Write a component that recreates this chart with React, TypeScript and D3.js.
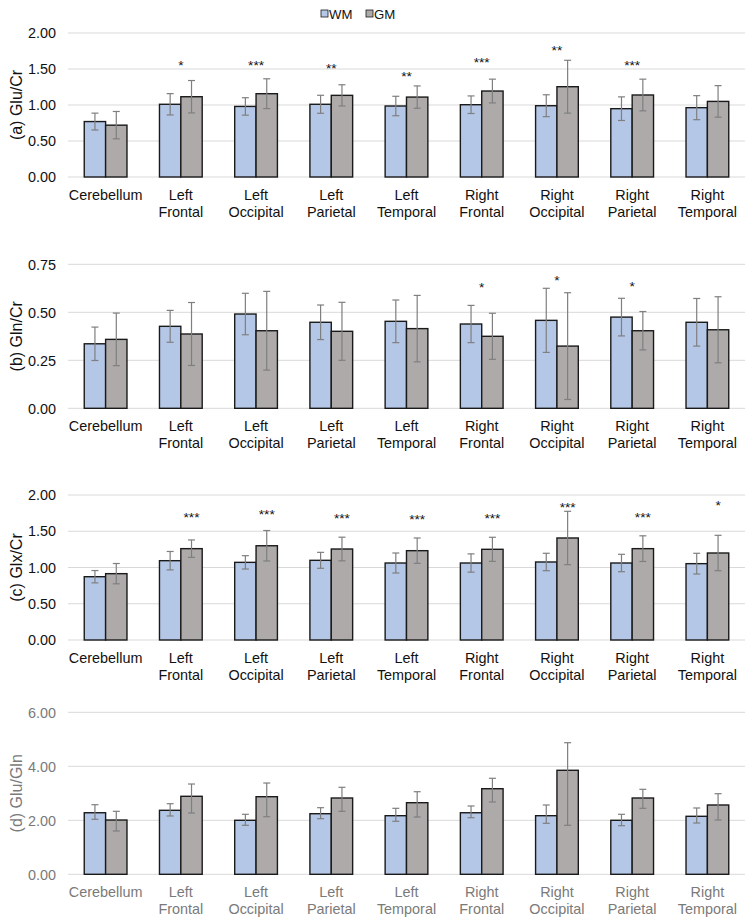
import React from "react";
import * as d3 from "d3";

// ---------- data ----------
const categories = [
  "Cerebellum",
  "Left Frontal",
  "Left Occipital",
  "Left Parietal",
  "Left Temporal",
  "Right Frontal",
  "Right Occipital",
  "Right Parietal",
  "Right Temporal",
];
const seriesNames = ["WM", "GM"];

// (a) Glu/Cr
const gluCrWM = [0.77, 1.01, 0.98, 1.01, 0.986, 1.004, 0.99, 0.949, 0.963];
const gluCrWMErr = [0.117, 0.148, 0.121, 0.125, 0.135, 0.122, 0.152, 0.164, 0.167];
const gluCrGM = [0.72, 1.115, 1.157, 1.134, 1.11, 1.194, 1.254, 1.139, 1.05];
const gluCrGMErr = [0.19, 0.225, 0.207, 0.147, 0.155, 0.165, 0.367, 0.22, 0.219];
const gluCrSig = ["", "*", "***", "**", "**", "***", "**", "***", ""];
const gluCrSigLevel = [0, 1.597, 1.597, 1.556, 1.444, 1.639, 1.806, 1.597, 0];

// (b) Gln/Cr
const glnCrWM = [0.336, 0.427, 0.491, 0.448, 0.453, 0.439, 0.458, 0.475, 0.448];
const glnCrWMErr = [0.087, 0.083, 0.108, 0.09, 0.111, 0.097, 0.167, 0.098, 0.124];
const glnCrGM = [0.359, 0.387, 0.404, 0.401, 0.415, 0.375, 0.324, 0.404, 0.409];
const glnCrGMErr = [0.137, 0.164, 0.205, 0.151, 0.173, 0.12, 0.278, 0.1, 0.172];
const glnCrSig = ["", "", "", "", "", "*", "*", "*", ""];
const glnCrSigLevel = [0, 0, 0, 0, 0, 0.647, 0.685, 0.654, 0];

// (c) Glx/Cr
const glxCrWM = [0.873, 1.094, 1.071, 1.099, 1.062, 1.062, 1.076, 1.062, 1.053];
const glxCrWMErr = [0.085, 0.127, 0.092, 0.11, 0.138, 0.126, 0.12, 0.12, 0.143];
const glxCrGM = [0.915, 1.26, 1.3, 1.255, 1.232, 1.251, 1.407, 1.26, 1.2];
const glxCrGMErr = [0.14, 0.12, 0.21, 0.163, 0.175, 0.166, 0.368, 0.177, 0.244];
const glxCrSig = ["", "***", "***", "***", "***", "***", "***", "***", "*"];
const glxCrSigLevel = [0, 1.738, 1.77, 1.728, 1.71, 1.728, 1.872, 1.742, 1.903];

// (d) Glu/Gln (asymmetric error bars)
const gluGlnWM = [2.28, 2.37, 2.0, 2.244, 2.17, 2.28, 2.17, 2.0, 2.148];
const gluGlnWMPlus = [0.298, 0.245, 0.222, 0.223, 0.274, 0.25, 0.397, 0.222, 0.308];
const gluGlnWMMinus = [0.243, 0.21, 0.185, 0.185, 0.207, 0.184, 0.281, 0.2, 0.248];
const gluGlnGM = [2.01, 2.889, 2.874, 2.826, 2.652, 3.17, 3.852, 2.826, 2.567];
const gluGlnGMPlus = [0.323, 0.455, 0.507, 0.396, 0.407, 0.386, 1.022, 0.322, 0.418];
const gluGlnGMMinus = [0.406, 0.619, 0.741, 0.493, 0.53, 0.492, 2.037, 0.382, 0.556];

const ticksA = [0, 0.5, 1.0, 1.5, 2.0];
const ticksB = [0, 0.25, 0.5, 0.75];
const ticksC = [0, 0.5, 1.0, 1.5, 2.0];
const ticksD = [0, 2, 4, 6];

// ---------- styles ----------
const FONT = "'Liberation Sans', Arial, Helvetica, sans-serif";
const FS = 14.4;
const COLORS = { WM: "#b4c7e7", GM: "#aeaaaa" };
const ERR = "#7f7f7f";
const GRID = "#d9d9d9";
const X0 = 68;
const X1 = 745;

type Panel = {
  title: string;
  wm: number[];
  gm: number[];
  wmPlus: number[];
  wmMinus: number[];
  gmPlus: number[];
  gmMinus: number[];
  ticks: number[];
  top: number;
  bottom: number;
  sig: string[];
  sigLevel: number[];
  sigOnGM: boolean;
  textColor: string;
};

const panels: Panel[] = [
  {
    title: "(a) Glu/Cr",
    wm: gluCrWM, gm: gluCrGM,
    wmPlus: gluCrWMErr, wmMinus: gluCrWMErr, gmPlus: gluCrGMErr, gmMinus: gluCrGMErr,
    ticks: ticksA, top: 33, bottom: 177,
    sig: gluCrSig, sigLevel: gluCrSigLevel, sigOnGM: false, textColor: "#111",
  },
  {
    title: "(b) Gln/Cr",
    wm: glnCrWM, gm: glnCrGM,
    wmPlus: glnCrWMErr, wmMinus: glnCrWMErr, gmPlus: glnCrGMErr, gmMinus: glnCrGMErr,
    ticks: ticksB, top: 264.3, bottom: 408.3,
    sig: glnCrSig, sigLevel: glnCrSigLevel, sigOnGM: false, textColor: "#111",
  },
  {
    title: "(c) Glx/Cr",
    wm: glxCrWM, gm: glxCrGM,
    wmPlus: glxCrWMErr, wmMinus: glxCrWMErr, gmPlus: glxCrGMErr, gmMinus: glxCrGMErr,
    ticks: ticksC, top: 495, bottom: 640,
    sig: glxCrSig, sigLevel: glxCrSigLevel, sigOnGM: true, textColor: "#111",
  },
  {
    title: "(d) Glu/Gln",
    wm: gluGlnWM, gm: gluGlnGM,
    wmPlus: gluGlnWMPlus, wmMinus: gluGlnWMMinus, gmPlus: gluGlnGMPlus, gmMinus: gluGlnGMMinus,
    ticks: ticksD, top: 712.3, bottom: 874.3,
    sig: [], sigLevel: [], sigOnGM: false, textColor: "#7a7a7a",
  },
];

const x0 = d3.scaleBand<string>().domain(categories).range([X0, X1]).paddingInner(0.432).paddingOuter(0.216);
const x1 = d3.scaleBand<string>().domain(seriesNames).range([0, x0.bandwidth()]).padding(0);

function Txt(props: { x: number; y: number; anchor: string; color: string; children: React.ReactNode; fs?: number }) {
  return (
    <text x={props.x} y={props.y} textAnchor={props.anchor as any} fill={props.color} fontSize={props.fs ?? FS} fontFamily={FONT}>
      {props.children}
    </text>
  );
}

function PanelView({ p }: { p: Panel }) {
  const yMax = p.ticks[p.ticks.length - 1];
  const y = d3.scaleLinear().domain([0, yMax]).range([p.bottom, p.top]);
  const fmt = d3.format(".2f");
  const cap = 3.5;
  return (
    <g>
      {p.ticks.map((t) => (
        <g key={t}>
          <line x1={X0} x2={X1} y1={y(t)} y2={y(t)} stroke={GRID} strokeWidth={1} />
          <Txt x={56} y={y(t) + 5.2} anchor="end" color={p.textColor}>{fmt(t)}</Txt>
        </g>
      ))}
      {categories.map((c, i) => {
        const bx = x0(c)!;
        const series = [
          { s: "WM", v: p.wm[i], plus: p.wmPlus[i], minus: p.wmMinus[i] },
          { s: "GM", v: p.gm[i], plus: p.gmPlus[i], minus: p.gmMinus[i] },
        ];
        const lines = c.split(" ");
        const cx = bx + x0.bandwidth() / 2;
        return (
          <g key={c}>
            {series.map((d) => (
              <rect key={d.s} x={bx + x1(d.s)!} y={y(d.v)} width={x1.bandwidth()} height={y(0) - y(d.v)}
                fill={(COLORS as any)[d.s]} stroke="#1a1a1a" strokeWidth={1.4} />
            ))}
            {series.map((d) => {
              const ex = bx + x1(d.s)! + x1.bandwidth() / 2;
              return (
                <g key={"e" + d.s} stroke={ERR} strokeWidth={1.2}>
                  <line x1={ex} x2={ex} y1={y(d.v + d.plus)} y2={y(d.v - d.minus)} />
                  <line x1={ex - cap} x2={ex + cap} y1={y(d.v + d.plus)} y2={y(d.v + d.plus)} />
                  <line x1={ex - cap} x2={ex + cap} y1={y(d.v - d.minus)} y2={y(d.v - d.minus)} />
                </g>
              );
            })}
            {lines.map((l, li) => (
              <Txt key={li} x={cx} y={p.bottom + 22.5 + li * 17} anchor="middle" color={p.textColor}>{l}</Txt>
            ))}
            {p.sig[i] ? (
              <Txt
                x={p.sigOnGM ? bx + x1("GM")! + x1.bandwidth() / 2 : cx}
                y={y(p.sigLevel[i]) + 13.7 * 0.57}
                anchor="middle"
                color="#111"
                fs={13.7}
              >
                {p.sig[i]}
              </Txt>
            ) : null}
          </g>
        );
      })}
      <text
        transform={`translate(21.5,${(p.top + p.bottom) / 2}) rotate(-90)`}
        textAnchor="middle" fill={p.textColor} fontSize={16} fontFamily={FONT}
      >
        {p.title}
      </text>
    </g>
  );
}

export default function App() {
  return (
    <svg width={754} height={924} style={{ position: "absolute", left: 0, top: 0, background: "#fff" }}>
      <rect x={0} y={0} width={754} height={924} fill="#fff" />
      {/* legend */}
      <g>
        <rect x={321} y={10} width={7} height={7} fill={COLORS.WM} stroke="#1a1a1a" strokeWidth={0.8} />
        <Txt x={329} y={18.8} anchor="start" color="#111" fs={13.2}>WM</Txt>
        <rect x={366} y={10} width={7} height={7} fill={COLORS.GM} stroke="#1a1a1a" strokeWidth={0.8} />
        <Txt x={374} y={18.8} anchor="start" color="#111" fs={13.2}>GM</Txt>
      </g>
      {panels.map((p) => (
        <PanelView key={p.title} p={p} />
      ))}
    </svg>
  );
}
